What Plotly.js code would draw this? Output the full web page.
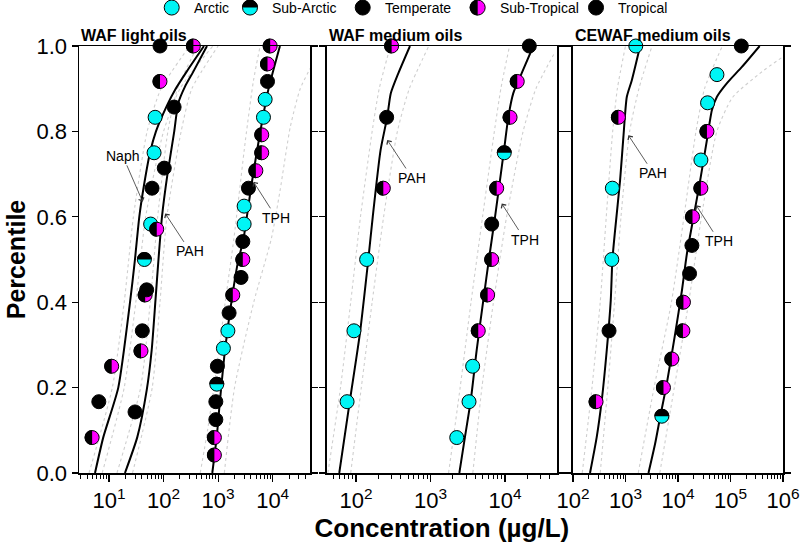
<!DOCTYPE html>
<html><head><meta charset="utf-8">
<script src="https://cdn.plot.ly/plotly-3.0.1.min.js"></script>
<style>html,body{margin:0;padding:0;background:#fff;} #chart{width:800px;height:548px;}</style>
</head><body><div id="chart"></div>
<script>
// ================= DATA =================
// Region codes: A = Arctic, SA = Sub-Arctic, T = Temperate, ST = Sub-Tropical, TR = Tropical
const regionNames = ['Arctic', 'Sub-Arctic', 'Temperate', 'Sub-Tropical', 'Tropical'];
const regionCodes = ['A', 'SA', 'T', 'ST', 'TR'];
const panelTitles = ['WAF light oils', 'WAF medium oils', 'CEWAF medium oils'];
const xTitle = 'Concentration (µg/L)';
const yTitle = 'Percentile';
const yTickVals = [0, 0.2, 0.4, 0.6, 0.8, 1.0];
const p1TickVals = [10, 100, 1000, 10000];
const p2TickVals = [100, 1000, 10000];
const p3TickVals = [100, 1000, 10000, 100000, 1000000];

// ---- Panel 1: WAF light oils (observations) ----
const p1NaphConc = [4.9, 6.5, 11.2, 40.8, 46, 44.5, 58, 61.5, 67, 70, 86, 86];
const p1NaphPct = [0.083, 0.167, 0.25, 0.333, 0.417, 0.5, 0.583, 0.667, 0.75, 0.833, 0.917, 1.0];
const p1NaphRegion = ['ST', 'T', 'ST', 'T', 'ST', 'SA', 'A', 'T', 'A', 'A', 'ST', 'TR'];
const p1PahConc = [30, 38.6, 49, 75, 103, 156, 352];
const p1PahPct = [0.143, 0.286, 0.429, 0.571, 0.714, 0.857, 1.0];
const p1PahRegion = ['T', 'ST', 'T', 'ST', 'TR', 'T', 'ST'];
const p1TphConc = [855, 855, 908, 908, 946, 970, 1250, 1510, 1590, 1860, 2630, 2840, 2840, 3000, 3000, 3600, 4920, 6310, 6310, 6780, 7280, 8040, 8040, 9000];
const p1TphPct = [0.042, 0.083, 0.125, 0.167, 0.208, 0.25, 0.292, 0.333, 0.375, 0.417, 0.458, 0.5, 0.542, 0.583, 0.625, 0.667, 0.708, 0.75, 0.792, 0.833, 0.875, 0.917, 0.958, 1.0];
const p1TphRegion = ['ST', 'ST', 'T', 'TR', 'SA', 'T', 'A', 'A', 'T', 'ST', 'TR', 'ST', 'T', 'A', 'A', 'T', 'ST', 'ST', 'ST', 'A', 'A', 'T', 'ST', 'ST'];

// ---- Panel 1 fitted curves (solid) ----
const p1NaphFitConc = [5.54, 7.87, 14.8, 24.3, 29.9, 35.9, 42.5, 56.4, 72.6, 117, 162, 265, 551];
const p1NaphFitPct = [0, 0.084, 0.2, 0.4, 0.5, 0.6, 0.664, 0.75, 0.8, 0.862, 0.897, 0.94, 1.0];
const p1PahFitConc = [19.6, 33, 49.1, 60.6, 71.1, 80.7, 93.5, 118, 157, 186, 247, 351, 625];
const p1PahFitPct = [0, 0.084, 0.194, 0.288, 0.405, 0.5, 0.6, 0.7, 0.8, 0.866, 0.905, 0.94, 1.0];
const p1TphFitConc = [782, 942, 1082, 1336, 1773, 2341, 2890, 4121, 5848, 8300, 13600];
const p1TphFitPct = [0, 0.084, 0.17, 0.288, 0.405, 0.498, 0.545, 0.678, 0.795, 0.897, 1.0];
// ---- Panel 1 confidence bounds (dotted) ----
const p1NaphLoConc = [4.3, 11.5, 19, 28, 50, 90, 300];
const p1NaphLoPct = [0, 0.2, 0.4, 0.6, 0.8, 0.9, 1.0];
const p1NaphHiConc = [7.5, 19, 31, 47, 100, 200, 800];
const p1NaphHiPct = [0, 0.2, 0.4, 0.6, 0.8, 0.9, 1.0];
const p1PahLoConc = [14, 38, 57, 78, 120, 180, 420];
const p1PahLoPct = [0, 0.2, 0.4, 0.6, 0.8, 0.9, 1.0];
const p1PahHiConc = [27, 62, 86, 115, 210, 330, 1000];
const p1PahHiPct = [0, 0.2, 0.4, 0.6, 0.8, 0.9, 1.0];
const p1TphLoConc = [470, 640, 950, 1350, 1950, 3170, 4460, 5900];
const p1TphLoPct = [0, 0.1, 0.25, 0.4, 0.55, 0.78, 0.92, 1.0];
const p1TphHiConc = [1300, 2000, 4500, 9500, 13600, 21000, 32000, 50000];
const p1TphHiPct = [0, 0.2, 0.4, 0.55, 0.66, 0.81, 0.9, 0.95];

// ---- Panel 2: WAF medium oils ----
const p2PahConc = [76, 94, 139, 233, 258, 301];
const p2PahPct = [0.167, 0.333, 0.5, 0.667, 0.833, 1.0];
const p2PahRegion = ['A', 'A', 'A', 'ST', 'T', 'ST'];
const p2TphConc = [2250, 3290, 3680, 4380, 5850, 6630, 6630, 7740, 9780, 11700, 14600, 21200];
const p2TphPct = [0.083, 0.167, 0.25, 0.333, 0.417, 0.5, 0.583, 0.667, 0.75, 0.833, 0.917, 1.0];
const p2TphRegion = ['A', 'A', 'A', 'ST', 'ST', 'ST', 'T', 'ST', 'SA', 'ST', 'ST', 'TR'];
const p2PahFitConc = [59.7, 83, 113, 146, 168, 214, 263, 293, 370, 531];
const p2PahFitPct = [0, 0.17, 0.327, 0.498, 0.6, 0.756, 0.834, 0.889, 0.936, 1.0];
const p2TphFitConc = [2440, 2900, 3470, 4170, 5120, 6150, 7350, 8570, 9700, 11100, 12900, 16700, 24000];
const p2TphFitPct = [0, 0.084, 0.17, 0.288, 0.405, 0.506, 0.6, 0.686, 0.756, 0.834, 0.889, 0.936, 1.0];
const p2PahLoConc = [42, 62, 85, 115, 165, 205, 290];
const p2PahLoPct = [0, 0.2, 0.4, 0.6, 0.8, 0.9, 1.0];
const p2PahHiConc = [85, 118, 165, 235, 360, 520, 950];
const p2PahHiPct = [0, 0.2, 0.4, 0.6, 0.8, 0.9, 1.0];
const p2TphLoConc = [1750, 2500, 3500, 5000, 7200, 8800, 11500];
const p2TphLoPct = [0, 0.2, 0.4, 0.6, 0.8, 0.9, 1.0];
const p2TphHiConc = [3700, 4900, 7000, 10500, 17500, 26000, 45000];
const p2TphHiPct = [0, 0.2, 0.4, 0.6, 0.8, 0.9, 0.98];

// ---- Panel 3: CEWAF medium oils ----
const p3PahConc = [275, 486, 548, 562, 733, 1570];
const p3PahPct = [0.167, 0.333, 0.5, 0.667, 0.833, 1.0];
const p3PahRegion = ['ST', 'T', 'A', 'A', 'ST', 'A'];
const p3TphConc = [4920, 5290, 7640, 12400, 12700, 16600, 18400, 18900, 27300, 27300, 35600, 36600, 55200, 160700];
const p3TphPct = [0.133, 0.2, 0.267, 0.333, 0.4, 0.467, 0.533, 0.6, 0.667, 0.733, 0.8, 0.867, 0.933, 1.0];
const p3TphRegion = ['SA', 'ST', 'ST', 'ST', 'ST', 'T', 'TR', 'ST', 'ST', 'A', 'ST', 'A', 'A', 'TR'];
const p3PahFitConc = [211, 283, 353, 440, 524, 562, 634, 789, 912, 1060, 1320, 1900];
const p3PahFitPct = [0, 0.084, 0.17, 0.288, 0.405, 0.498, 0.569, 0.686, 0.787, 0.881, 0.92, 1.0];
const p3TphFitConc = [2740, 3670, 4570, 6130, 8850, 11900, 14800, 19800, 26500, 35600, 44300, 55200, 85700, 165000, 359000];
const p3TphFitPct = [0, 0.069, 0.131, 0.21, 0.327, 0.428, 0.514, 0.6, 0.686, 0.78, 0.85, 0.881, 0.913, 0.951, 1.0];
const p3PahLoConc = [150, 230, 330, 430, 570, 700, 1000];
const p3PahLoPct = [0, 0.2, 0.4, 0.6, 0.8, 0.9, 1.0];
const p3PahHiConc = [330, 460, 620, 820, 1200, 1800, 3200];
const p3PahHiPct = [0, 0.2, 0.4, 0.6, 0.8, 0.9, 1.0];
const p3TphLoConc = [1750, 3500, 7500, 13000, 22000, 32000, 70000];
const p3TphLoPct = [0, 0.2, 0.4, 0.6, 0.8, 0.9, 1.0];
const p3TphHiConc = [4500, 8500, 16000, 28000, 55000, 110000, 400000, 1000000];
const p3TphHiPct = [0, 0.2, 0.4, 0.6, 0.8, 0.88, 0.94, 0.975];

// ---- Curve labels (text, arrow-tip concentration, arrow-tip percentile) ----
const p1Labels = ['Naph', 'PAH', 'TPH'];
const p1LabelConc = [41.5, 107, 4450];
const p1LabelPct = [0.635, 0.608, 0.682];
const p2Labels = ['PAH', 'TPH'];
const p2LabelConc = [263, 9040];
const p2LabelPct = [0.78, 0.631];
const p3Labels = ['PAH', 'TPH'];
const p3LabelConc = [1135, 22200];
const p3LabelPct = [0.791, 0.627];

// ================= STYLE / BUILD =================
const FONT = 'Liberation Sans, Arial, Helvetica, sans-serif';
const CYAN = '#00F5F5', MAGENTA = '#FF00FF', BLACK = '#000000';
const fillOf = {A: CYAN, SA: CYAN, T: BLACK, ST: MAGENTA, TR: BLACK};
const MS = 14;           // marker diameter
const R = 7.5;           // half-fill radius
const K = 0.5523;

function leftHalf(r) {
  const k = (K * r).toFixed(2);
  return `M0,${r} C-${k},${r} -${r},${k} -${r},0 C-${r},-${k} -${k},-${r} 0,-${r} Z`;
}
function topHalf(r) {
  const k = (K * r).toFixed(2);
  return `M-${r},0 C-${r},${k} -${k},${r} 0,${r} C${k},${r} ${r},${k} ${r},0 Z`;
}

const panels = [
  {xa: 'x', ya: 'y',
   bands: [[p1NaphLoConc, p1NaphLoPct], [p1NaphHiConc, p1NaphHiPct], [p1PahLoConc, p1PahLoPct], [p1PahHiConc, p1PahHiPct], [p1TphLoConc, p1TphLoPct], [p1TphHiConc, p1TphHiPct]],
   fits: [[p1NaphFitConc, p1NaphFitPct], [p1PahFitConc, p1PahFitPct], [p1TphFitConc, p1TphFitPct]],
   obs: [[p1NaphConc, p1NaphPct, p1NaphRegion], [p1PahConc, p1PahPct, p1PahRegion], [p1TphConc, p1TphPct, p1TphRegion]],
   labels: [p1Labels, p1LabelConc, p1LabelPct]},
  {xa: 'x2', ya: 'y2',
   bands: [[p2PahLoConc, p2PahLoPct], [p2PahHiConc, p2PahHiPct], [p2TphLoConc, p2TphLoPct], [p2TphHiConc, p2TphHiPct]],
   fits: [[p2PahFitConc, p2PahFitPct], [p2TphFitConc, p2TphFitPct]],
   obs: [[p2PahConc, p2PahPct, p2PahRegion], [p2TphConc, p2TphPct, p2TphRegion]],
   labels: [p2Labels, p2LabelConc, p2LabelPct]},
  {xa: 'x3', ya: 'y3',
   bands: [[p3PahLoConc, p3PahLoPct], [p3PahHiConc, p3PahHiPct], [p3TphLoConc, p3TphLoPct], [p3TphHiConc, p3TphHiPct]],
   fits: [[p3PahFitConc, p3PahFitPct], [p3TphFitConc, p3TphFitPct]],
   obs: [[p3PahConc, p3PahPct, p3PahRegion], [p3TphConc, p3TphPct, p3TphRegion]],
   labels: [p3Labels, p3LabelConc, p3LabelPct]}
];

const traces = [];
const shapes = [];
const annotations = [];
// arrow text offsets (px) from tip to label
const labelOffsets = {Naph: [-20, -46], PAH: [25, 38], TPH: [23, 36]};

panels.forEach((p, pi) => {
  p.bands.forEach(b => traces.push({
    type: 'scatter', mode: 'lines', x: b[0], y: b[1], xaxis: p.xa, yaxis: p.ya,
    line: {color: '#cfcfcf', width: 1.1, dash: 'dot', shape: 'spline', smoothing: 0.6},
    hoverinfo: 'skip', showlegend: false
  }));
  p.fits.forEach(f => traces.push({
    type: 'scatter', mode: 'lines', x: f[0], y: f[1], xaxis: p.xa, yaxis: p.ya,
    line: {color: BLACK, width: 2, shape: 'spline', smoothing: 0.6},
    hoverinfo: 'skip', showlegend: false
  }));
  p.obs.forEach(o => {
    traces.push({
      type: 'scatter', mode: 'markers', x: o[0], y: o[1], xaxis: p.xa, yaxis: p.ya,
      cliponaxis: false,
      text: o[2].map(r => regionNames[regionCodes.indexOf(r)]),
      marker: {size: MS, color: o[2].map(r => fillOf[r]), line: {color: BLACK, width: 1}},
      showlegend: false
    });
    o[2].forEach((r, i) => {
      if (r === 'ST' || r === 'SA') {
        shapes.push({
          type: 'path', layer: 'above', xref: p.xa, yref: 'paper',
          xsizemode: 'pixel', ysizemode: 'pixel',
          xanchor: o[0][i], yanchor: o[1][i],
          path: r === 'ST' ? leftHalf(R) : topHalf(R),
          fillcolor: BLACK, line: {width: 0}
        });
      }
    });
  });
  const [txt, lc, lp] = p.labels;
  txt.forEach((t, i) => {
    const off = labelOffsets[t];
    annotations.push({
      xref: p.xa, yref: p.ya, x: Math.log10(lc[i]), y: lp[i], text: t,
      showarrow: true, ax: off[0], ay: off[1], arrowhead: 4, arrowsize: 1.4, arrowwidth: 0.8,
      arrowcolor: '#333', font: {family: FONT, size: 14, color: '#000'}
    });
  });
  annotations.push({
    xref: p.xa + ' domain', yref: 'paper', x: 0, y: 1, xanchor: 'left', yanchor: 'bottom',
    yshift: 0, showarrow: false, text: '<b>' + panelTitles[pi] + '</b>',
    font: {family: FONT, size: 16, color: '#000'}
  });
});

// ---- Legend (manual, so half-filled markers can be shown) ----
const legX = [0.1317, 0.2429, 0.403, 0.5663, 0.7344];
const legY = 1.09;
regionCodes.forEach((r, i) => {
  shapes.push({type: 'circle', xref: 'paper', yref: 'paper', xsizemode: 'pixel', ysizemode: 'pixel',
    xanchor: legX[i], yanchor: legY, x0: -7.5, x1: 7.5, y0: -7.5, y1: 7.5,
    fillcolor: fillOf[r], line: {color: BLACK, width: 1}});
  if (r === 'ST' || r === 'SA') {
    shapes.push({type: 'path', xref: 'paper', yref: 'paper', xsizemode: 'pixel', ysizemode: 'pixel',
      xanchor: legX[i], yanchor: legY, path: r === 'ST' ? leftHalf(8) : topHalf(8),
      fillcolor: BLACK, line: {width: 0}});
  }
  annotations.push({xref: 'paper', yref: 'paper', x: legX[i], y: legY, xanchor: 'left', yanchor: 'middle',
    xshift: 20, showarrow: false, text: regionNames[i], font: {family: FONT, size: 14, color: '#000'}});
});

function xAxis(domain, range, vals, anchor) {
  return {
    type: 'log', domain: domain, range: range, anchor: anchor,
    tickmode: 'array', tickvals: vals,
    ticktext: vals.map(v => '10<sup>' + Math.round(Math.log10(v)) + '</sup>'),
    ticks: 'outside', ticklen: 7, tickwidth: 1.2, tickcolor: BLACK,
    minor: {ticks: 'outside', ticklen: 4, tickwidth: 1, tickcolor: BLACK, dtick: 'D1', showgrid: false},
    showline: true, linecolor: BLACK, linewidth: 1.5, mirror: true,
    showgrid: false, zeroline: false,
    tickfont: {family: FONT, size: 22, color: BLACK}
  };
}
function yAxis(anchor, labels) {
  return {
    range: [0, 1], domain: [0, 1], anchor: anchor,
    tickmode: 'array', tickvals: yTickVals, tickformat: '.1f',
    ticks: 'outside', ticklen: 6, tickwidth: 1.2, tickcolor: BLACK,
    showline: true, linecolor: BLACK, linewidth: 1.5, mirror: 'ticks',
    showgrid: false, zeroline: false, showticklabels: labels,
    tickfont: {family: FONT, size: 22, color: BLACK}
  };
}

const layout = {
  width: 800, height: 548,
  margin: {l: 79, r: 17, t: 46, b: 75},
  paper_bgcolor: '#fff', plot_bgcolor: '#fff',
  showlegend: false,
  font: {family: FONT, color: BLACK},
  xaxis: xAxis([0, 0.3288], [0.450, 4.693], p1TickVals, 'y'),
  xaxis2: Object.assign(xAxis([0.3518, 0.679], [1.607, 4.698], p2TickVals, 'y2'),
    {title: {text: '<b>' + xTitle + '</b>', font: {family: FONT, size: 26, color: BLACK}, standoff: 6}}),
  xaxis3: xAxis([0.7017, 1], [2, 6], p3TickVals, 'y3'),
  yaxis: Object.assign(yAxis('x', true),
    {title: {text: '<b>' + yTitle + '</b>', font: {family: FONT, size: 25, color: BLACK}, standoff: 4}}),
  yaxis2: yAxis('x2', false),
  yaxis3: yAxis('x3', false),
  shapes: shapes,
  annotations: annotations
};

Plotly.newPlot('chart', traces, layout, {displayModeBar: false, staticPlot: true});
</script>
</body></html>
